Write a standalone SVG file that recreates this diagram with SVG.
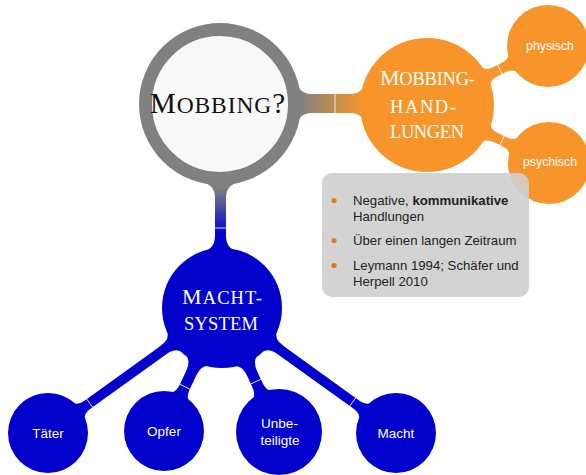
<svg xmlns="http://www.w3.org/2000/svg" width="586" height="475" viewBox="0 0 586 475">
<style>
.ring{fill:#f8f8f8;stroke:#808080;stroke-width:13}
.orange{fill:#f7952a}
.blue{fill:#0202cc}
.sc{font-family:"Liberation Serif","Times New Roman",serif}
.lbl{font-family:"Liberation Sans",Arial,sans-serif;fill:#fff;text-anchor:middle}
.tick{stroke:#fff;stroke-width:0.8;fill:none}
.bt{font-family:"Liberation Sans",Arial,sans-serif;font-size:13.2px;fill:#222}
.dot{fill:#e07b1a}
</style>
<defs>
<linearGradient id="gGO" gradientUnits="userSpaceOnUse" x1="300" y1="0" x2="362" y2="0">
<stop offset="0" stop-color="#808080"/><stop offset="1" stop-color="#f7952a"/>
</linearGradient>
<linearGradient id="gGB" gradientUnits="userSpaceOnUse" x1="0" y1="188" x2="0" y2="234">
<stop offset="0" stop-color="#808080"/><stop offset="1" stop-color="#0202cc"/>
</linearGradient>
</defs>
<g id="connectors">
<path d="M297,82 Q299,94 312,94 L350,94 Q363,94 365,82 L365,125 Q363,113 350,113 L312,113 Q299,113 297,125 Z" fill="url(#gGO)"/>
<line class="tick" x1="335" y1="94" x2="335" y2="113"/>
<path d="M200.5,182 Q215,184 215,198 L215,236 Q215,250 200.5,252 L240.5,252 Q226,250 226,236 L226,198 Q226,184 240.5,182 Z" fill="url(#gGB)"/>
<line class="tick" x1="215" y1="228" x2="226" y2="228"/>
<g transform="translate(427,105) rotate(-26)" class="orange">
<path d="M64.9,-12 Q66.9,-5 75.9,-5 L85.4,-5 Q94.4,-5 96.4,-12 L96.4,12 Q94.4,5 85.4,5 L75.9,5 Q66.9,5 64.9,12 Z"/>
<line class="tick" x1="81" y1="-5" x2="81" y2="5"/>
</g>
<g transform="translate(427,105) rotate(25.4)" class="orange">
<path d="M64.9,-12 Q66.9,-5 75.9,-5 L85.9,-5 Q94.9,-5 96.9,-12 L96.9,12 Q94.9,5 85.9,5 L75.9,5 Q66.9,5 64.9,12 Z"/>
<line class="tick" x1="83" y1="-5" x2="83" y2="5"/>
</g>
<g transform="translate(222,308) rotate(144.3)" class="blue">
<path d="M57.6,-14 Q59.6,-5 72.6,-5 L165.7,-5 Q174.7,-5 176.7,-11 L176.7,11 Q174.7,5 165.7,5 L72.6,5 Q59.6,5 57.6,14 Z"/>
<line class="tick" x1="163" y1="-5" x2="163" y2="5"/>
</g>
<g transform="translate(222,308) rotate(115.25)" class="blue">
<path d="M57.6,-14 Q59.6,-5.5 72.6,-5.5 L87.5,-5.5 Q96.5,-5.5 98.5,-11 L98.5,11 Q96.5,5.5 87.5,5.5 L72.6,5.5 Q59.6,5.5 57.6,14 Z"/>
<line class="tick" x1="87" y1="-5.5" x2="87" y2="5.5"/>
</g>
<g transform="translate(222,308) rotate(65.3)" class="blue">
<path d="M57.6,-14 Q59.6,-5.5 72.6,-5.5 L84.9,-5.5 Q93.9,-5.5 95.9,-11 L95.9,11 Q93.9,5.5 84.9,5.5 L72.6,5.5 Q59.6,5.5 57.6,14 Z"/>
<line class="tick" x1="81" y1="-5.5" x2="81" y2="5.5"/>
</g>
<g transform="translate(222,308) rotate(35.7)" class="blue">
<path d="M57.6,-14 Q59.6,-5 72.6,-5 L165.7,-5 Q174.7,-5 176.7,-11 L176.7,11 Q174.7,5 165.7,5 L72.6,5 Q59.6,5 57.6,14 Z"/>
<line class="tick" x1="161" y1="-5" x2="161" y2="5"/>
</g>
</g>
<g id="mobbing">
<circle class="ring" cx="220" cy="104" r="74.5"/>
<text class="sc" x="150" y="113" font-size="29" fill="#111" textLength="135" lengthAdjust="spacing">M<tspan font-size="23.5">OBBING</tspan>?</text>
</g>
<g id="handlungen">
<circle class="orange" cx="427" cy="105" r="67"/>
<g class="sc" fill="#fff" font-size="18.5">
<text x="380" y="85" textLength="95" lengthAdjust="spacing"><tspan font-size="22">M</tspan>OBBING-</text>
<text x="390" y="113" textLength="66" lengthAdjust="spacing">HAND-</text>
<text x="390" y="138" textLength="74" lengthAdjust="spacing">LUNGEN</text>
</g>
</g>
<g id="physisch">
<circle class="orange" cx="548" cy="46" r="41"/>
<text class="lbl" x="550" y="50" font-size="12.3">physisch</text>
</g>
<g id="psychisch">
<circle class="orange" cx="549" cy="163" r="41"/>
<text class="lbl" x="550" y="166" font-size="12.3">psychisch</text>
</g>
<g id="machtsystem">
<circle class="blue" cx="222" cy="308" r="60"/>
<g class="sc" fill="#fff" font-size="18.5">
<text x="182" y="304" textLength="80" lengthAdjust="spacing"><tspan font-size="22">M</tspan>ACHT-</text>
<text x="184" y="330" textLength="74" lengthAdjust="spacing">SYSTEM</text>
</g>
</g>
<g id="taeter">
<circle class="blue" cx="48" cy="433" r="40"/>
<text class="lbl" x="48" y="438" font-size="13.5">Täter</text>
</g>
<g id="opfer">
<circle class="blue" cx="164" cy="431" r="40"/>
<text class="lbl" x="164" y="436" font-size="13.5">Opfer</text>
</g>
<g id="unbeteiligte">
<circle class="blue" cx="279" cy="432" r="43"/>
<text class="lbl" x="279.5" y="428" font-size="13.5">Unbe-</text>
<text class="lbl" x="280" y="445" font-size="13.5">teiligte</text>
</g>
<g id="macht">
<circle class="blue" cx="396" cy="433" r="40"/>
<text class="lbl" x="396" y="438" font-size="13.5">Macht</text>
</g>
<g id="notes">
<rect x="322" y="173" width="207" height="124" rx="10" fill="#cecece" fill-opacity="0.9"/>
<circle class="dot" cx="334" cy="200.5" r="2.6"/>
<circle class="dot" cx="334" cy="240.5" r="2.6"/>
<circle class="dot" cx="334" cy="265.5" r="2.6"/>
<text class="bt" x="353" y="205">Negative, <tspan font-weight="bold">kommunikative</tspan></text>
<text class="bt" x="353" y="221">Handlungen</text>
<text class="bt" x="353" y="245">Über einen langen Zeitraum</text>
<text class="bt" x="353" y="270">Leymann 1994; Schäfer und</text>
<text class="bt" x="353" y="286">Herpell 2010</text>
</g>
</svg>
